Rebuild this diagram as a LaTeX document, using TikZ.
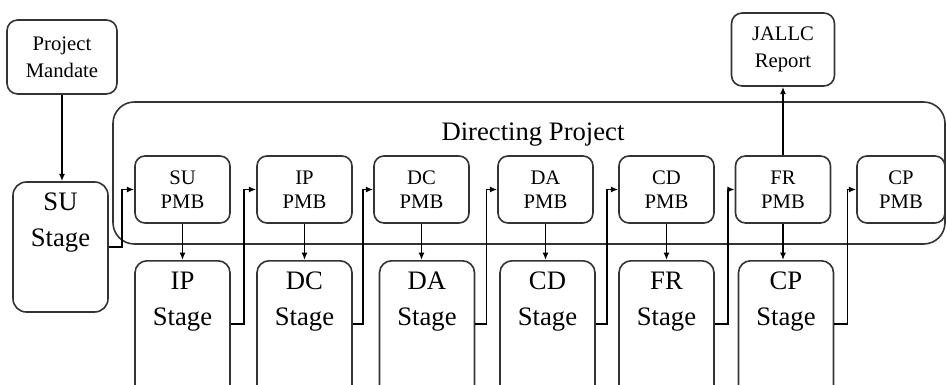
\documentclass[tikz,border=0pt]{standalone}
\usepackage{fontspec}
\setmainfont{Liberation Serif}
\usetikzlibrary{arrows.meta}
\begin{document}
\begin{tikzpicture}[x=0.75pt,y=-0.75pt,
  box/.style={draw=black!80, line width=1.2pt, fill=white, inner sep=0pt},
  pmbbox/.style={box, rounded corners=7.5pt, minimum width=95*0.75pt, minimum height=67*0.75pt,
                 font=\fontsize{15.5}{18}\selectfont, align=center},
  stagebox/.style={box, rounded corners=9pt, anchor=north, minimum width=95*0.75pt},
  small/.style={font=\fontsize{15.5}{20}\selectfont, align=center},
  big/.style={font=\fontsize{20}{27}\selectfont, align=center},
  conn/.style={line width=1.15pt, -{Latex[length=5.5pt,width=4.5pt]}},
]
\useasboundingbox (0,0) rectangle (947,385);
\clip (0,0) rectangle (947,385);

% Directing Project frame
\node[box, rounded corners=16pt, minimum width=832*0.75pt, minimum height=142*0.75pt] (dp) at (529,173) {};
\node[big] (dpt) at (533,135) {Directing Project};

% Top boxes
\node[box, small, rounded corners=8pt, minimum width=110*0.75pt, minimum height=74*0.75pt] (pm) at (62,57) {Project\\Mandate};
\node[box, small, rounded corners=8pt, minimum width=103*0.75pt, minimum height=73*0.75pt] (jr) at (783,49.5) {JALLC\\Report};

% SU Stage
\node[box, rounded corners=10pt, minimum width=95*0.75pt, minimum height=130*0.75pt] (sus) at (60.5,247) {};
\node[big] (sut) at (60.5,223) {SU\\Stage};

% Project management boards
\node[pmbbox] (supmb) at (182.5,189.5) {SU\\PMB};
\node[pmbbox] (ippmb) at (304.5,189.5) {IP\\PMB};
\node[pmbbox] (dcpmb) at (421.5,189.5) {DC\\PMB};
\node[pmbbox] (dapmb) at (545.5,189.5) {DA\\PMB};
\node[pmbbox] (cdpmb) at (666.5,189.5) {CD\\PMB};
\node[pmbbox] (frpmb) at (783,189.5) {FR\\PMB};
\node[pmbbox, minimum width=88*0.75pt] (cppmb) at (901,189.5) {CP\\PMB};

% Stages
\node[stagebox, minimum height=160*0.75pt] (ips) at (182.5,260) {};
\node[stagebox, minimum height=160*0.75pt] (dcs) at (304.5,260) {};
\node[stagebox, minimum height=160*0.75pt] (das) at (427,260) {};
\node[stagebox, minimum height=160*0.75pt] (cds) at (547.5,260) {};
\node[stagebox, minimum height=160*0.75pt] (frs) at (666.5,260) {};
\node[stagebox, minimum height=160*0.75pt] (cps) at (786,260) {};
\node[big] (ipt) at (182.5,302) {IP\\Stage};
\node[big] (dct) at (304.5,302) {DC\\Stage};
\node[big] (dat) at (427,302) {DA\\Stage};
\node[big] (cdt) at (547.5,302) {CD\\Stage};
\node[big] (frt) at (666.5,302) {FR\\Stage};
\node[big] (cpt) at (786,302) {CP\\Stage};

% Mandate and report
\draw[conn] (pm.south) -- (pm.south |- sus.north);
\draw[conn] (frpmb.north) -- (frpmb.north |- jr.south);

% Board to next stage
\draw[conn] (supmb.south) -- (supmb.south |- ips.north);
\draw[conn] (ippmb.south) -- (ippmb.south |- dcs.north);
\draw[conn] (dcpmb.south) -- (dcpmb.south |- das.north);
\draw[conn] (dapmb.south) -- (dapmb.south |- cds.north);
\draw[conn] (cdpmb.south) -- (cdpmb.south |- frs.north);
\draw[conn] (frpmb.south) -- (frpmb.south |- cps.north);

% Stage end to next board
\draw[conn] (sus.east) -- ++(13,0) |- (supmb.west);
\draw[conn] ([yshift=-64*0.75pt]ips.north east) -- ++(13,0) |- (ippmb.west);
\draw[conn] ([yshift=-64*0.75pt]dcs.north east) -- ++(10,0) |- (dcpmb.west);
\draw[conn] ([yshift=-64*0.75pt]das.north east) -- ++(11,0) |- (dapmb.west);
\draw[conn] ([yshift=-64*0.75pt]cds.north east) -- ++(11,0) |- (cdpmb.west);
\draw[conn] ([yshift=-64*0.75pt]frs.north east) -- ++(13,0) |- (frpmb.west);
\draw[conn] ([yshift=-64*0.75pt]cps.north east) -- ++(13,0) |- (cppmb.west);
\end{tikzpicture}
\end{document}
